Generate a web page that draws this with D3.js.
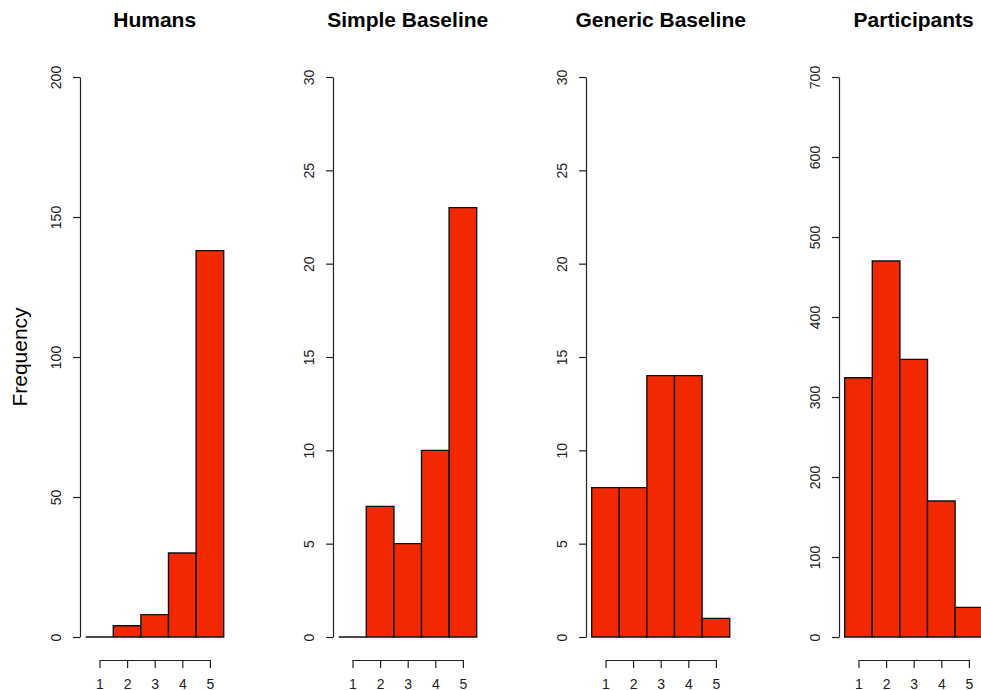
<!DOCTYPE html>
<html>
<head>
<meta charset="utf-8">
<script src="https://cdn.jsdelivr.net/npm/d3@7"></script>
<style>
  body { margin: 0; background: #fff; }
  svg { display: block; font-family: "Liberation Sans", Arial, Helvetica, sans-serif; }
</style>
</head>
<body>
<div id="container"></div>
<script>
const titles = ["Humans", "Simple Baseline", "Generic Baseline", "Participants"];
const ratings = [1, 2, 3, 4, 5];
const humans = [0, 4, 8, 30, 138];
const simpleBaseline = [0, 7, 5, 10, 23];
const genericBaseline = [8, 8, 14, 14, 1];
const participants = [324, 470, 347, 170, 37];
const yMax = [200, 30, 30, 700];
const yStep = [50, 5, 5, 100];

const counts = [humans, simpleBaseline, genericBaseline, participants];

const w = 981, h = 690;
const plotTop = 77, plotBottom = 637;
const panelStep = 253;
const firstAxis = 80;
const plotW = 138;

const svg = d3.select("#container").append("svg").attr("width", w).attr("height", h);

svg.append("text")
  .attr("transform", `translate(27, ${(plotTop + plotBottom) / 2}) rotate(-90)`)
  .attr("text-anchor", "middle")
  .style("font-size", "21px")
  .text("Frequency");

counts.forEach((vals, p) => {
  const ax = firstAxis + p * panelStep;
  const x0 = ax + 5.7;
  const g = svg.append("g");

  const x = d3.scaleLinear().domain([0.5, 5.5]).range([x0, x0 + plotW]);
  const y = d3.scaleLinear().domain([0, yMax[p]]).range([plotBottom, plotTop]);

  // bars (paths so that empty bins still show as a line)
  g.selectAll("path.bar")
    .data(vals)
    .enter()
    .append("path")
      .attr("class", "bar")
      .attr("d", (d, i) => {
        const a = x(ratings[i] - 0.5), b = x(ratings[i] + 0.5);
        return `M${a},${plotBottom}V${y(d)}H${b}V${plotBottom}Z`;
      })
      .attr("fill", d => d > 0 ? "#f22800" : "none")
      .attr("stroke", "#111")
      .attr("stroke-width", 1.4);

  // y axis
  const yAxis = d3.axisLeft(y)
    .tickValues(d3.range(0, yMax[p] + 1, yStep[p]))
    .tickSize(7)
    .tickSizeOuter(0)
    .tickFormat(d3.format("d"));
  const yg = g.append("g").attr("transform", `translate(${ax},0)`).call(yAxis);
  yg.selectAll("text")
    .attr("x", 0).attr("y", -19).attr("dy", null)
    .attr("transform", "rotate(-90)")
    .attr("text-anchor", "middle")
    .style("font-size", "14px").attr("fill", "#222");

  // x axis, from first to last rating
  const xa = x.copy().domain([1, 5]).range([x(1), x(5)]);
  const xAxis = d3.axisBottom(xa)
    .tickValues(ratings)
    .tickSize(8)
    .tickSizeOuter(0)
    .tickFormat(d3.format("d"));
  const xg = g.append("g").attr("transform", "translate(0,660)").call(xAxis);
  xg.selectAll("text")
    .attr("y", 29).attr("dy", null)
    .style("font-size", "14px").attr("fill", "#222");

  [yg, xg].forEach(s => {
    s.attr("font-family", null).attr("font-size", null);
    s.selectAll("path, line").attr("stroke", "#222").attr("stroke-width", 1.2);
  });

  g.append("text")
    .attr("x", x0 + plotW / 2)
    .attr("y", 27)
    .attr("text-anchor", "middle")
    .style("font-size", "21px")
    .style("font-weight", "bold")
    .text(titles[p]);
});
</script>
</body>
</html>
